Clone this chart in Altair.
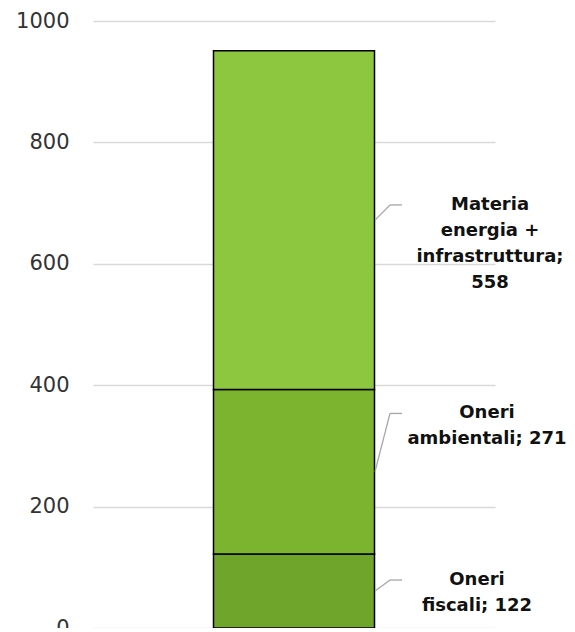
import altair as alt
import pandas as pd

categories = ["Oneri fiscali", "Oneri ambientali", "Materia energia + infrastruttura"]
values = [122, 271, 558]
label_lines = [["Oneri", "fiscali; 122"],
               ["Oneri", "ambientali; 271"],
               ["Materia", "energia +", "infrastruttura;", "558"]]
colors = ["#6fa52a", "#7cb32f", "#8dc63f"]
y_ticks = [0, 200, 400, 600, 800, 1000]

# annotation layout (knee rise in data units, label centre x in px)
knee_rise = [18, 96, 25]
label_x = [384, 394, 397]

rows = []
base = 0
for i, (c, v) in enumerate(zip(categories, values)):
    mid = base + v / 2
    rows.append(dict(cat=c, val=v, y0=base, y1=base + v, mid=mid,
                     knee=mid + knee_rise[i], order=i,
                     lines=label_lines[i], lx=label_x[i]))
    base += v
df = pd.DataFrame(rows)

W, H = 402, 607
yscale = alt.Scale(domain=[0, 1000], nice=False)

bars = alt.Chart(df).mark_bar(stroke="#000000", strokeWidth=1.5).encode(
    x=alt.value(W / 2 - 80.5), x2=alt.value(W / 2 + 80.5),
    y=alt.Y("y0:Q", scale=yscale,
            axis=alt.Axis(values=y_ticks, title=None, domain=False, ticks=False,
                          grid=True, gridColor="#d9d9d9", gridWidth=1.5, format="d",
                          labelFont="DejaVu Sans", labelFontSize=21, labelColor="#333333",
                          labelPadding=24)),
    y2="y1:Q",
    color=alt.Color("cat:N", scale=alt.Scale(domain=categories, range=colors), legend=None),
)

diag = alt.Chart(df).mark_rule(color="#a6a6a6", strokeWidth=1.3).encode(
    x=alt.value(282), x2=alt.value(297),
    y=alt.Y("mid:Q", scale=yscale), y2="knee:Q",
)
horiz = alt.Chart(df).mark_rule(color="#a6a6a6", strokeWidth=1.3).encode(
    x=alt.value(297), x2=alt.value(309),
    y=alt.Y("knee:Q", scale=yscale),
)

labels = alt.Chart(df).mark_text(font="DejaVu Sans", fontWeight="bold", fontSize=18,
                                 align="center", baseline="middle", lineHeight=26,
                                 color="#111111").encode(
    x=alt.X("lx:Q", scale=None),
    y=alt.Y("knee:Q", scale=yscale),
    text="lines",
)

chart = alt.layer(bars, diag, horiz, labels).properties(
    width=W, height=H,
    autosize=alt.AutoSizeParams(type="none"),
    padding={"left": 85, "top": 13, "right": 72, "bottom": 0},
).configure_view(stroke=None)

chart.save("out.html", embed_options={"renderer": "svg", "actions": False})
